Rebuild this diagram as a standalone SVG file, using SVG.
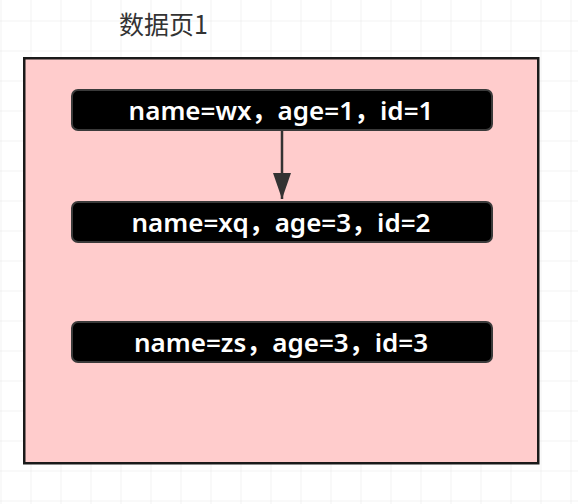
<svg xmlns="http://www.w3.org/2000/svg" width="578" height="504" viewBox="0 0 578 504">
  <defs>
    <pattern id="grid" x="0.5" y="20.5" width="30" height="30" patternUnits="userSpaceOnUse">
      <path d="M0 0 H30 M0 0 V30" fill="none" stroke="#e6e6e6" stroke-width="1"/>
    </pattern>
    <marker id="arrow" viewBox="0 0 26 18" markerWidth="26" markerHeight="18" refX="26" refY="9" orient="auto" markerUnits="userSpaceOnUse">
      <path d="M0 0 L26 9 L0 18 Z" fill="#333333"/>
    </marker>
  </defs>
  <style>
    .node rect { fill: #000000; stroke: #3a3a3a; stroke-width: 2; }
    .node text { fill: #ffffff; font-family: "Noto Sans", "Noto Sans CJK SC", sans-serif; font-size: 26px; font-weight: 600; text-anchor: middle; }
    .title { fill: #333333; font-family: "Noto Sans CJK SC", "Noto Sans", sans-serif; font-size: 25px; }
    .conn { stroke: #333333; stroke-width: 2.5; fill: none; }
  </style>
  <rect width="578" height="504" fill="#ffffff"/>
  <rect width="578" height="504" fill="url(#grid)"/>
  <text class="title" x="119" y="34">数据页1</text>
  <g id="page">
    <rect x="24.25" y="58.25" width="514" height="405" fill="#ffcccc" stroke="#1a1a1a" stroke-width="2.5"/>
  </g>
  <g id="node1" class="node">
    <rect x="72" y="90" width="420" height="40" rx="6"/>
    <text x="281" y="119.5">name=wx，age=1，id=1</text>
  </g>
  <g id="node2" class="node">
    <rect x="72" y="202" width="420" height="40" rx="6"/>
    <text x="281" y="231.5">name=xq，age=3，id=2</text>
  </g>
  <g id="node3" class="node">
    <rect x="72" y="322" width="420" height="40" rx="6"/>
    <text x="281" y="351.5">name=zs，age=3，id=3</text>
  </g>
  <g id="connectors">
    <line class="conn" x1="282" y1="131" x2="282" y2="199" marker-end="url(#arrow)"/>
  </g>
</svg>
